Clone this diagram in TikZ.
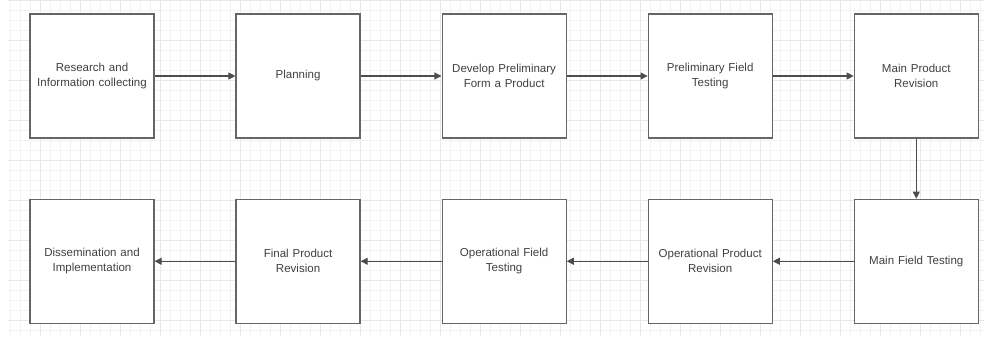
\documentclass[tikz,border=0pt]{standalone}
\usepackage{fontspec}
\setmainfont{Liberation Sans}
\usetikzlibrary{positioning,arrows.meta}

\tikzset{
  stagebox/.style = {draw=black!60, line width=0.9pt, fill=white,
    minimum size=3.1cm, text width=3.0cm, inner sep=1pt, align=center,
    font=\fontsize{8.2}{10.6}\selectfont, text=black!75},
  flow/.style = {draw=black!70, line width=0.8pt,
    -{Triangle[length=5pt,width=5pt]}},
}

\begin{document}
\begin{tikzpicture}[node distance = 2.02cm]
    \useasboundingbox (0,0) rectangle (24.6,-8.5);

    % background grid
    \draw[black!5, step=0.25] (0.2,0) grid (24.6,-8.4);
    \draw[black!9, step=1] (0.2,0) grid (24.6,-8.4);

    \node[stagebox] (research) at (2.3,-1.9) {Research and\\Information collecting};
    \node[stagebox, right = of research] (planning) {Planning};
    \node[stagebox, right = of planning] (develop) {Develop Preliminary\\Form a Product};
    \node[stagebox, right = of develop] (prefield) {Preliminary Field\\Testing};
    \node[stagebox, right = of prefield] (mainrev) {Main Product\\Revision};

    \node[stagebox, below = 1.5cm of mainrev] (mainfield) {Main Field Testing};
    \node[stagebox, left = of mainfield] (oprev) {Operational Product\\Revision};
    \node[stagebox, left = of oprev] (opfield) {Operational Field\\Testing};
    \node[stagebox, left = of opfield] (finalrev) {Final Product\\Revision};
    \node[stagebox, left = of finalrev] (dissem) {Dissemination and\\Implementation};

    \draw[flow] (research) -- (planning);
    \draw[flow] (planning) -- (develop);
    \draw[flow] (develop) -- (prefield);
    \draw[flow] (prefield) -- (mainrev);
    \draw[flow] (mainrev) -- (mainfield);
    \draw[flow] (mainfield) -- (oprev);
    \draw[flow] (oprev) -- (opfield);
    \draw[flow] (opfield) -- (finalrev);
    \draw[flow] (finalrev) -- (dissem);
\end{tikzpicture}
\end{document}
